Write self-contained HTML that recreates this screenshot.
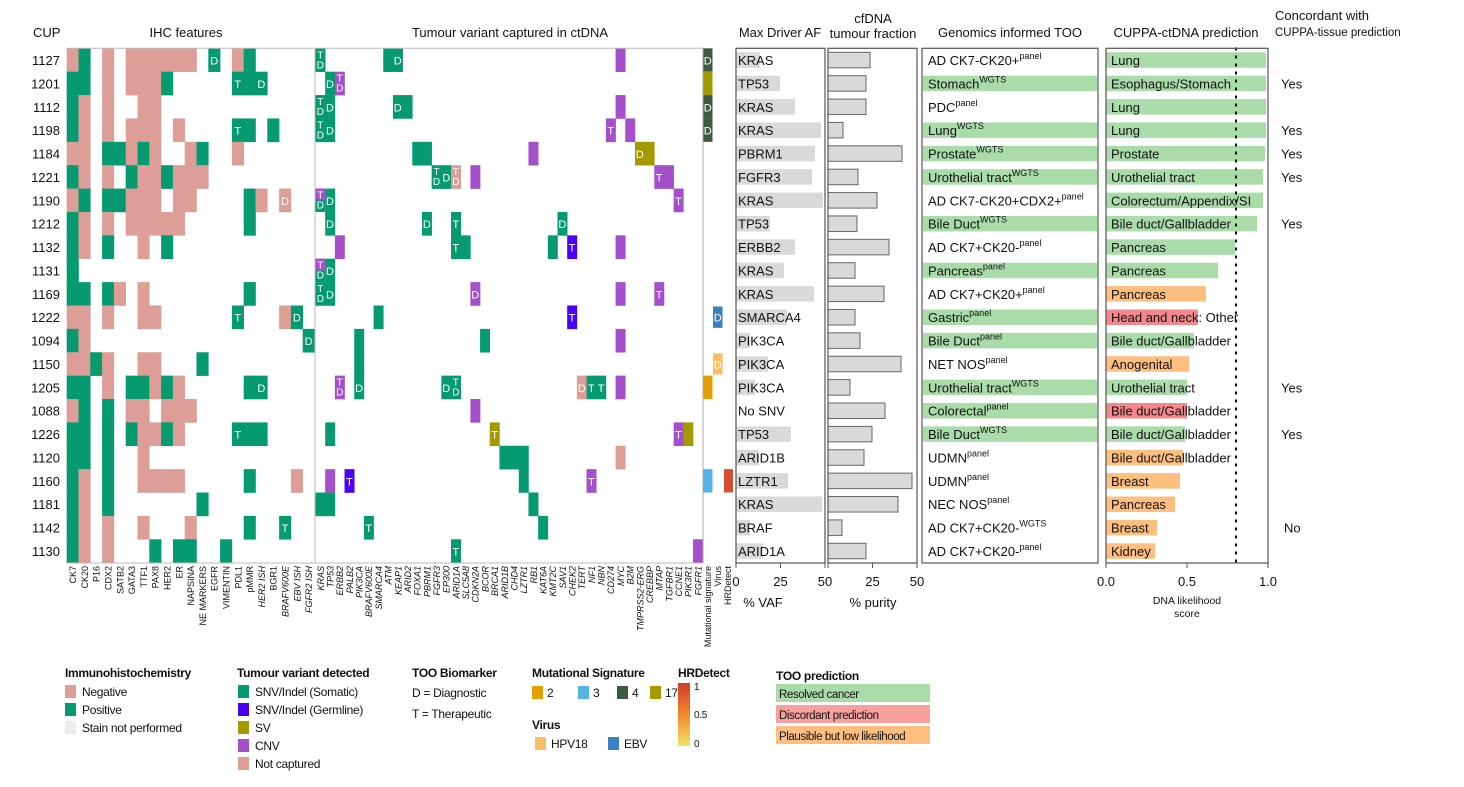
<!DOCTYPE html>
<html><head><meta charset="utf-8">
<style>
html,body{margin:0;padding:0;background:#fff;}
svg{display:block;font-family:"Liberation Sans",Arial,sans-serif;}
</style></head><body>
<svg id="s" width="1464" height="787" viewBox="0 0 1464 787" xmlns="http://www.w3.org/2000/svg">
<rect width="1464" height="787" fill="#fff"/>
<g font-size="13" fill="#111">
<text x="33" y="37">CUP</text>
<text x="186" y="37" text-anchor="middle">IHC features</text>
<text x="510" y="37" text-anchor="middle">Tumour variant captured in ctDNA</text>
<text x="780" y="37" text-anchor="middle">Max Driver AF</text>
<text x="873" y="23" text-anchor="middle">cfDNA</text>
<text x="873" y="38" text-anchor="middle">tumour fraction</text>
<text x="1010" y="37" text-anchor="middle">Genomics informed TOO</text>
<text x="1186" y="37" text-anchor="middle">CUPPA-ctDNA prediction</text>
<text x="1275" y="20">Concordant with</text>
<text x="1275" y="36" font-size="11.5">CUPPA-tissue prediction</text>
</g>
<g id="g"></g>
</svg>
<script>
const NS="http://www.w3.org/2000/svg",G=document.getElementById('g');
function el(t,a,txt){const e=document.createElementNS(NS,t);for(const k in a)e.setAttribute(k,a[k]);if(txt!==undefined)e.textContent=txt;G.appendChild(e);return e;}
const T0=48.3,RH=23.38;
const cups=["1127","1201","1112","1198","1184","1221","1190","1212","1132","1131","1169","1222","1094","1150","1205","1088","1226","1120","1160","1181","1142","1130"];
const PINK="#dd9e97",GRN="#069a70",GERM="#4a00f5",SV="#a39a00",CNV="#a64fca";
cups.forEach((c,i)=>el('text',{x:60,y:T0+i*RH+RH/2+5,'font-size':13,'text-anchor':'end',fill:'#111'},c));
const ihc=["np.n.nnnnnn.p.np.....","pp.n.nnnp.....ppp....","pn.n..nn.............","pn.n.nnn.n....pp.p...","nn.ppnpn..np..n......","pn.n.pnnpnnn.........","np.ppnnn.nn....pn.n..","pn.n.nnnnn.....p.....","pn.p..n.p............","p....................","pp.pn.n........p.....","nn.n..nn......p...np.","pn..................p","nnpn..nn...p.........","pp.n.ppnpn.....pp....","np.p.nn.nnn..........","pp.p.pnnpn....ppp....","pp.p..n..............","pn.p..nnnn.....p...n.","pn.p.......p.........","pn.n..n...n....p..p..","pn.n...p.pp..p......."];
const IX=66.7,IW=11.8;
const ihcLab={"0,12":"D","1,14":"T","1,16":"D","3,14":"T","6,18":"D","11,14":"T","11,19":"D","12,20":"D","14,16":"D","16,14":"T","20,18":"T"};
ihc.forEach((r,i)=>{for(let j=0;j<r.length;j++){const ch=r[j];if(ch=='.')continue;
 el('rect',{x:IX+j*IW,y:T0+i*RH,width:IW+0.3,height:RH+0.3,fill:ch=='p'?GRN:PINK});
 const L=ihcLab[i+","+j];if(L)el('text',{x:IX+j*IW+IW/2,y:T0+i*RH+RH/2+4.5,'font-size':11,'text-anchor':'middle',fill:'#fff'},L);}});
const VX=315.5,VW=9.68;
const C={g:GRN,b:GERM,s:SV,c:CNV,n:PINK};
const v=[[0,0,'g','TD'],[0,7,'g',''],[0,8,'g','D'],[0,31,'c',''],
[1,1,'g','D'],[1,2,'c','TD'],
[2,0,'g','TD'],[2,1,'g','D'],[2,8,'g','D'],[2,9,'g',''],[2,31,'c',''],
[3,0,'g','TD'],[3,1,'g','D'],[3,30,'c','T'],[3,32,'c',''],
[4,10,'g',''],[4,11,'g',''],[4,22,'c',''],[4,33,'s','D'],[4,34,'s',''],
[5,12,'g','TD'],[5,13,'g','D'],[5,14,'n','TD'],[5,16,'c',''],[5,35,'c','T'],[5,36,'c',''],
[6,1,'g','D'],[6,37,'c','T'],
[7,1,'g','D'],[7,11,'g','D'],[7,14,'g','T'],[7,25,'g','D'],
[8,2,'c',''],[8,14,'g','T'],[8,15,'g',''],[8,24,'g',''],[8,26,'b','T'],[8,31,'c',''],
[9,1,'g','D'],
[10,0,'g','TD'],[10,1,'g','D'],[10,16,'c','D'],[10,31,'c',''],[10,35,'c','T'],
[11,6,'g',''],[11,26,'b','T'],
[12,4,'g',''],[12,17,'g',''],[12,31,'c',''],
[13,4,'g',''],
[14,2,'c','TD'],[14,4,'g','D'],[14,13,'g','D'],[14,14,'g','TD'],[14,27,'n','D'],[14,28,'g','T'],[14,29,'g','T'],[14,31,'c',''],
[15,16,'c',''],
[16,1,'g',''],[16,18,'s','T'],[16,37,'c','T'],[16,38,'s',''],
[17,19,'g',''],[17,20,'g',''],[17,21,'g',''],[17,31,'n',''],
[18,1,'c',''],[18,3,'b','T'],[18,21,'g',''],[18,28,'c','T'],
[19,0,'g',''],[19,1,'g',''],[19,22,'g',''],
[20,5,'g','T'],[20,23,'g',''],
[21,14,'g','T'],[21,39,'c','']];
function lab(x,y,L){if(L.length==2){el('text',{x:x+VW/2,y:y+10,'font-size':10,'text-anchor':'middle',fill:'#fff'},L[0]);el('text',{x:x+VW/2,y:y+20,'font-size':10,'text-anchor':'middle',fill:'#fff'},L[1]);}
 else if(L)el('text',{x:x+VW/2,y:y+RH/2+4.5,'font-size':11,'text-anchor':'middle',fill:'#fff'},L);}
v.forEach(([r,c,k,L])=>{const x=VX+c*VW,y=T0+r*RH;el('rect',{x:x,y:y,width:VW+0.3,height:RH+0.3,fill:C[k]});lab(x,y,L);});
[6,9].forEach(r=>{const x=VX,y=T0+r*RH;el('rect',{x:x,y:y,width:VW,height:RH,fill:GRN});el('rect',{x:x,y:y,width:VW,height:RH/2,fill:CNV});
 el('text',{x:x+VW/2,y:y+10,'font-size':10,'text-anchor':'middle',fill:'#fff'},'T');el('text',{x:x+VW/2,y:y+20,'font-size':10,'text-anchor':'middle',fill:'#fff'},'D');});
const SX=703,SW=9.5;
[[0,'#3e5a40','D'],[1,SV,''],[2,'#3e5a40','D'],[3,'#3e5a40','D'],[14,'#e59e00',''],[18,'#56b3e8','']].forEach(([r,col,L])=>{el('rect',{x:SX,y:T0+r*RH,width:SW,height:RH,fill:col});if(L)el('text',{x:SX+SW/2,y:T0+r*RH+RH/2+4.5,'font-size':11,'text-anchor':'middle',fill:'#fff'},L);});
[[11,'#3b7fc4','D'],[13,'#fbbe63','D']].forEach(([r,col,L])=>{el('rect',{x:713,y:T0+r*RH+1,width:9.5,height:RH-2,fill:col});el('text',{x:717.7,y:T0+r*RH+RH/2+4.5,'font-size':11,'text-anchor':'middle',fill:'#fff'},L);});
el('rect',{x:724,y:T0+18*RH,width:9,height:RH,fill:'#d4502e'});
el('line',{x1:66,y1:T0,x2:703,y2:T0,stroke:'#bbb'});
el('line',{x1:315,y1:T0,x2:315,y2:563,stroke:'#bbb'});
el('line',{x1:703,y1:T0,x2:703,y2:563,stroke:'#aaa'});
el('line',{x1:66,y1:563,x2:703,y2:563,stroke:'#bbb'});
const ihcN=["CK7","CK20","P16","CDX2","SATB2","GATA3","TTF1","PAX8","HER2","ER","NAPSINA","NE MARKERS","EGFR","VIMENTIN","PDL1","pMMR","HER2 ISH","BGR1","BRAFV600E","EBV ISH","FGFR2 ISH"];
const itI={16:1,18:1,19:1,20:1};
ihcN.forEach((n,j)=>{const x=IX+j*IW+IW/2+3.5;el('text',{x:0,y:0,transform:`translate(${x},566) rotate(-90)`,'font-size':9,'text-anchor':'end',fill:'#111','font-style':itI[j]?'italic':'normal'},n);});
const gn=["KRAS","TP53","ERBB2","PALB2","PIK3CA","BRAFV600E","SMARCA4","ATM","KEAP1","ARID2","FOXA1","PBRM1","FGFR3","EP300","ARID1A","SLC5A8","CDKN2A","BCOR","BRCA1","ARID1B","CHD4","LZTR1","RB1","KAT6A","KMT2C","SAV1","CHEK2","TERT","NF1","NBN","CD274","MYC","B2M","TMPRSS2-ERG","CREBBP","MTAP","TGFBR1","CCNE1","PIK3R1","FGFR1"];
gn.forEach((n,j)=>{const x=VX+j*VW+VW/2+3.5;el('text',{x:0,y:0,transform:`translate(${x},566) rotate(-90)`,'font-size':9,'text-anchor':'end',fill:'#111','font-style':'italic'},n);});
[["Mutational signature",711],["Virus",721],["HRDetect",731]].forEach(([n,x])=>el('text',{x:0,y:0,transform:`translate(${x},566) rotate(-90)`,'font-size':9,'text-anchor':'end',fill:'#111'},n));
const afG=["KRAS","TP53","KRAS","KRAS","PBRM1","FGFR3","KRAS","TP53","ERBB2","KRAS","KRAS","SMARCA4","PIK3CA","PIK3CA","PIK3CA","No SNV","TP53","ARID1B","LZTR1","KRAS","BRAF","ARID1A"];
const afE=[760,780,795,821,815,812,823,770,795,784,814,787,750,768,755,736,791,759,788,822,750,763];
afG.forEach((n,i)=>{const y=T0+i*RH;if(afE[i]>736)el('rect',{x:736,y:y+4,width:afE[i]-736,height:15.5,fill:'#d9d9d9'});el('text',{x:738,y:y+RH/2+5,'font-size':13,fill:'#111'},n);});
el('rect',{x:736,y:T0,width:89,height:563-T0,fill:'none',stroke:'#555','stroke-width':1.2});
const cfE=[870,866,866,843,902,858,877,857,889,855,884,855,860,901,850,885,872,864,912,898,842,866];
cfE.forEach((e,i)=>{const y=T0+i*RH;el('rect',{x:828,y:y+4,width:e-828,height:15.5,fill:'#d9d9d9',stroke:'#666','stroke-width':1});});
el('rect',{x:828,y:T0,width:89,height:563-T0,fill:'none',stroke:'#555','stroke-width':1.2});
[[736,"0"],[780.5,"25"],[825,"50"],[872.5,"25"],[917,"50"]].forEach(([x,t])=>{el('line',{x1:x,y1:563,x2:x,y2:568,stroke:'#555'});el('text',{x:x,y:586,'font-size':13,'text-anchor':'middle',fill:'#111'},t);});
el('line',{x1:828,y1:563,x2:828,y2:568,stroke:'#555'});
el('text',{x:763,y:607,'font-size':13,'text-anchor':'middle',fill:'#111'},"% VAF");
el('text',{x:873,y:607,'font-size':13,'text-anchor':'middle',fill:'#111'},"% purity");
const too=[["AD CK7-CK20+","panel",0],["Stomach","WGTS",1],["PDC","panel",0],["Lung","WGTS",1],["Prostate","WGTS",1],["Urothelial tract","WGTS",1],["AD CK7-CK20+CDX2+","panel",0],["Bile Duct","WGTS",1],["AD CK7+CK20-","panel",0],["Pancreas","panel",1],["AD CK7+CK20+","panel",0],["Gastric","panel",1],["Bile Duct","panel",1],["NET NOS","panel",0],["Urothelial tract","WGTS",1],["Colorectal","panel",1],["Bile Duct","WGTS",1],["UDMN","panel",0],["UDMN","panel",0],["NEC NOS","panel",0],["AD CK7+CK20-","WGTS",0],["AD CK7+CK20-","panel",0]];
const GREEN="#a9dca9";
too.forEach(([a,b,g],i)=>{const y=T0+i*RH;if(g)el('rect',{x:923,y:y+4,width:174,height:15.5,fill:GREEN});
 const t=el('text',{x:928,y:y+RH/2+5,'font-size':13,fill:'#111'});const s1=document.createElementNS(NS,'tspan');s1.textContent=a;t.appendChild(s1);
 const s2=document.createElementNS(NS,'tspan');s2.setAttribute('dy','-6');s2.setAttribute('font-size','9');s2.textContent=b;t.appendChild(s2);});
el('rect',{x:922,y:T0,width:176,height:563-T0,fill:'none',stroke:'#555','stroke-width':1.2});
el('text',{x:1106,y:586,'font-size':13,'text-anchor':'middle',fill:'#111'},"0.0");
const OR="#fdbf80",RD="#f4878a";
const cp=[["Lung",1266,GREEN],["Esophagus/Stomach",1266,GREEN],["Lung",1266,GREEN],["Lung",1266,GREEN],["Prostate",1265,GREEN],["Urothelial tract",1263,GREEN],["Colorectum/Appendix/SI",1263,GREEN],["Bile duct/Gallbladder",1257,GREEN],["Pancreas",1235,GREEN],["Pancreas",1218,GREEN],["Pancreas",1206,OR],["Head and neck: Other",1198,RD],["Bile duct/Gallbladder",1194,GREEN],["Anogenital",1189,OR],["Urothelial tract",1187,GREEN],["Bile duct/Gallbladder",1187,RD],["Bile duct/Gallbladder",1185,GREEN],["Bile duct/Gallbladder",1183,OR],["Breast",1180,OR],["Pancreas",1175,OR],["Breast",1157,OR],["Kidney",1155,OR]];
cp.forEach(([n,e,c],i)=>{const y=T0+i*RH;el('rect',{x:1106,y:y+4,width:e-1106,height:15.5,fill:c});el('text',{x:1111,y:y+RH/2+5,'font-size':13,fill:'#111'},n);});
el('line',{x1:1236,y1:T0,x2:1236,y2:563,stroke:'#111','stroke-width':2,'stroke-dasharray':'1.5 6.5','stroke-linecap':'round'});
el('rect',{x:1106,y:T0,width:162,height:563-T0,fill:'none',stroke:'#555','stroke-width':1.2});
[[1106,"0.0"],[1187,"0.5"],[1268,"1.0"]].forEach(([x,t])=>{el('line',{x1:x,y1:563,x2:x,y2:568,stroke:'#555'});if(x>1106)el('text',{x:x,y:586,'font-size':13,'text-anchor':'middle',fill:'#111'},t);});
el('text',{x:1187,y:604,'font-size':10.5,'text-anchor':'middle',fill:'#111'},"DNA likelihood");
el('text',{x:1187,y:617,'font-size':10.5,'text-anchor':'middle',fill:'#111'},"score");
[[1,"Yes"],[3,"Yes"],[4,"Yes"],[5,"Yes"],[7,"Yes"],[14,"Yes"],[16,"Yes"],[20,"No"]].forEach(([r,t])=>el('text',{x:t=="No"?1284:1281,y:T0+r*RH+RH/2+5,'font-size':13,fill:'#111'},t));
function sw(x,y,c,w,h){el('rect',{x:x,y:y,width:w||11,height:h||13,fill:c});}
function tx(x,y,t,o){const a={x:x,y:y,'font-size':12,'letter-spacing':'-0.3',fill:'#111'};Object.assign(a,o||{});return el('text',a,t);}
const B={'font-weight':'bold'};
tx(65,677,"Immunohistochemistry",B);
sw(65,685,PINK);tx(82,696,"Negative");sw(65,703,GRN);tx(82,714,"Positive");sw(65,721,"#ececec");tx(82,732,"Stain not performed");
tx(237,677,"Tumour variant detected",B);
[[GRN,"SNV/Indel (Somatic)"],[GERM,"SNV/Indel (Germline)"],[SV,"SV"],[CNV,"CNV"],[PINK,"Not captured"]].forEach(([c,t],i)=>{sw(238,685+i*18,c);tx(255,696+i*18,t);});
tx(412,677,"TOO Biomarker",B);tx(412,697,"D = Diagnostic");tx(412,718,"T = Therapeutic");
tx(532,677,"Mutational Signature",B);
[[532,'#e59e00','2'],[578,'#56b3e8','3'],[617,'#3e5a40','4'],[650,SV,'17']].forEach(([x,c,t])=>{sw(x,686,c);tx(x+15,697,t);});
tx(532,729,"Virus",B);sw(535,737,'#fbbe63');tx(551,748,"HPV18");sw(608,737,'#3b7fc4');tx(624,748,"EBV");
tx(678,677,"HRDetect",B);
const df=document.createElementNS(NS,'defs');df.innerHTML='<linearGradient id="hr" x1="0" y1="0" x2="0" y2="1"><stop offset="0" stop-color="#d13a2a"/><stop offset="0.5" stop-color="#f08a2a"/><stop offset="1" stop-color="#f7e26a"/></linearGradient>';G.appendChild(df);
el('rect',{x:678,y:683,width:12,height:63,fill:'url(#hr)'});
tx(694,690,"1",{'font-size':10});tx(694,718,"0.5",{'font-size':10});tx(694,747,"0",{'font-size':10});
tx(776,680,"TOO prediction",B);
[[GREEN,"Resolved cancer"],["#f8a0a0","Discordant prediction"],[OR,"Plausible but low likelihood"]].forEach(([c,t],i)=>{sw(776,684+i*21,c,154,18);tx(779,698+i*21,t,{'font-size':11.5,'letter-spacing':'-0.4'});});
</script>
</body></html>
